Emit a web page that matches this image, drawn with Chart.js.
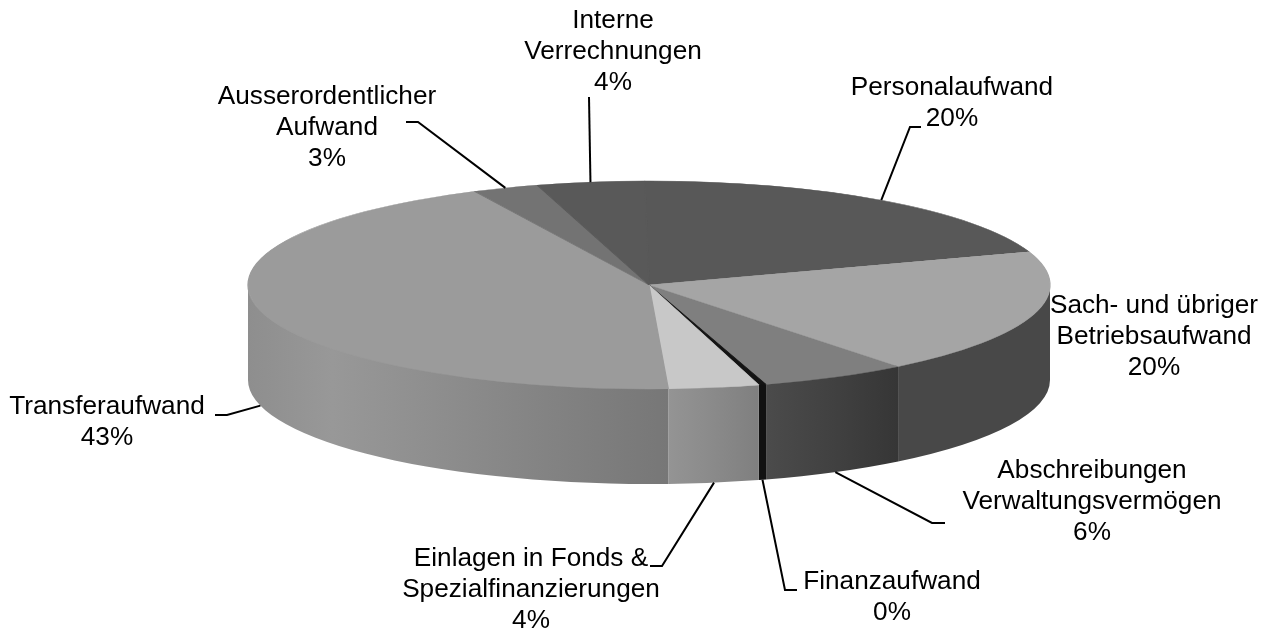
<!DOCTYPE html>
<html lang="de">
<head>
    <meta charset="UTF-8">
    <title>Aufwand</title>
    <script src="https://cdn.jsdelivr.net/npm/chart.js"></script>
    <style>
        html, body { margin: 0; padding: 0; background: #fff; }
        canvas { display: block; }
    </style>
</head>
<body>
    <canvas id="pie" width="1274" height="634"></canvas>

    <script>
        // clockwise, starting at the top of the pie
        const categories = [
            ["Personalaufwand"],
            ["Sach- und übriger", "Betriebsaufwand"],
            ["Abschreibungen", "Verwaltungsvermögen"],
            ["Finanzaufwand"],
            ["Einlagen in Fonds &", "Spezialfinanzierungen"],
            ["Transferaufwand"],
            ["Ausserordentlicher", "Aufwand"],
            ["Interne", "Verrechnungen"]
        ];
        const values = [20, 19.5, 5.95, 0.3, 3.65, 43.6, 2.67, 4.33];
        const percentLabels = ["20%", "20%", "6%", "0%", "4%", "43%", "3%", "4%"];

        const topColors = ["#585858", "#a5a5a5", "#7f7f7f", "#141414", "#c8c8c8", "#9b9b9b", "#737373", "#595959"];
        const wallLeft  = ["#585858", "#484848", "#4b4b4b", "#111111", "#949494", "#8e8e8e", "#737373", "#595959"];
        const wallMid   = ["#585858", "#484848", "#414141", "#111111", "#8a8a8a", "#989898", "#737373", "#595959"];
        const wallRight = ["#585858", "#484848", "#363636", "#111111", "#7f7f7f", "#777777", "#737373", "#595959"];

        // layout of the flattened pie
        const pieX = 649, pieY = 285, pieRx = 401, pieRy = 104, pieDepth = 95;

        // centre x / first line y of each label, and the leader's elbow + end
        const labelX = [952, 1154, 1092, 892, 531, 107, 327, 613];
        const labelY = [88, 306, 471, 582, 559, 407, 97, 21];
        const leaderBends = [
            [[910, 127], [921, 127]],
            null,
            [[932, 523], [945, 523]],
            [[785, 590], [797, 590]],
            [[662, 566], [650, 566]],
            [[227, 415], [215, 415]],
            [[418, 122], [406, 122]],
            [[589, 97]]
        ];
        const lineHeight = 30.8;

        const pie3d = {
            id: "pie3d",
            beforeDatasetsDraw(chart) {
                const ctx = chart.ctx;
                const arcs = chart.getDatasetMeta(0).data;
                // side wall, only the part facing the viewer
                arcs.forEach((arc, i) => {
                    let a0 = arc.startAngle, a1 = arc.endAngle;
                    if (a1 <= 0 || a0 >= Math.PI) return;
                    a0 = Math.max(a0, 0);
                    a1 = Math.min(a1, Math.PI);
                    const x0 = pieX + pieRx * Math.cos(a1), x1 = pieX + pieRx * Math.cos(a0);
                    const g = ctx.createLinearGradient(x0, 0, x1, 0);
                    g.addColorStop(0, wallLeft[i]);
                    g.addColorStop(i == 5 ? 0.2 : 0.5, wallMid[i]);
                    g.addColorStop(1, wallRight[i]);
                    ctx.beginPath();
                    // top edge tucked under the face so no light seam shows on the rim
                    ctx.ellipse(pieX, pieY, pieRx, pieRy - 2, 0, a0, a1);
                    ctx.ellipse(pieX, pieY + pieDepth, pieRx, pieRy, 0, a1, a0, true);
                    ctx.closePath();
                    ctx.fillStyle = g;
                    ctx.fill();
                });
                // squash the library's own arcs into the top face
                const first = arcs[0];
                ctx.save();
                ctx.translate(pieX, pieY);
                ctx.scale(pieRx / first.outerRadius, pieRy / first.outerRadius);
                ctx.translate(-first.x, -first.y);
            },
            afterDatasetsDraw(chart) {
                const ctx = chart.ctx;
                ctx.restore();
                const arcs = chart.getDatasetMeta(0).data;
                // leader lines start on the rim at the middle of each slice
                ctx.strokeStyle = "#000";
                ctx.lineWidth = 2;
                arcs.forEach((arc, i) => {
                    if (!leaderBends[i]) return;
                    const mid = (arc.startAngle + arc.endAngle) / 2;
                    const front = Math.sin(mid) > 0;
                    ctx.beginPath();
                    ctx.moveTo(pieX + pieRx * Math.cos(mid), pieY + pieRy * Math.sin(mid) + (front ? pieDepth : 0));
                    leaderBends[i].forEach(p => ctx.lineTo(p[0], p[1]));
                    ctx.stroke();
                });
                ctx.fillStyle = "#000";
                ctx.font = '26.2px "Liberation Sans"';
                ctx.textAlign = "center";
                ctx.textBaseline = "middle";
                categories.forEach((lines, i) => {
                    lines.concat(percentLabels[i]).forEach((t, j) => {
                        ctx.fillText(t, labelX[i], labelY[i] + j * lineHeight);
                    });
                });
            }
        };

        new Chart(document.getElementById("pie"), {
            type: "pie",
            data: {
                labels: categories,
                datasets: [{
                    data: values,
                    backgroundColor: topColors,
                    borderColor: topColors,
                    borderWidth: 1
                }]
            },
            options: {
                responsive: false,
                animation: false,
                rotation: -0.6,
                plugins: { legend: { display: false }, tooltip: { enabled: false } }
            },
            plugins: [pie3d]
        });
    </script>
</body>
</html>
